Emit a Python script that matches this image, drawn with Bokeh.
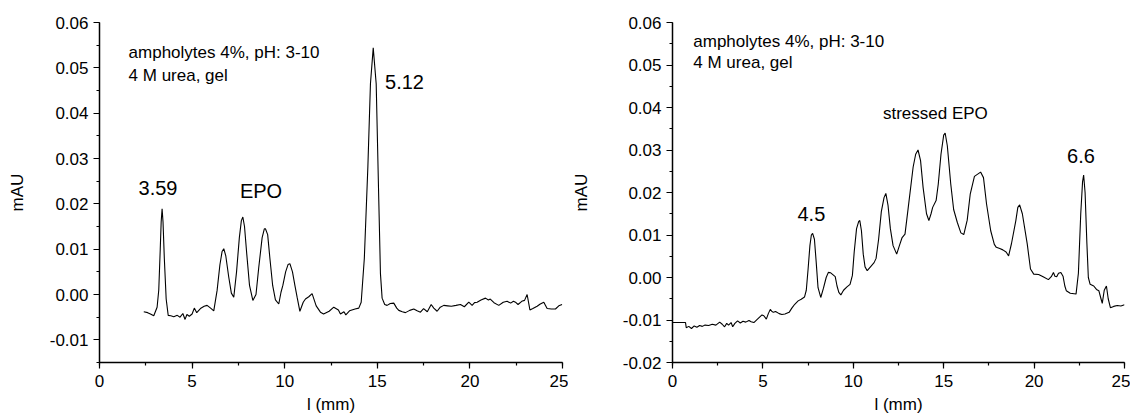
from bokeh.plotting import figure
from bokeh.layouts import row
from bokeh.models import Range1d, FixedTicker
from bokeh.core.properties import value
from bokeh.embed import file_html
from bokeh.resources import INLINE

FONT = "Liberation Sans"

# ---------------- data: left panel (EPO) ----------------
left_x = [2.39, 2.6, 2.75, 2.93, 3.11, 3.2, 3.28, 3.33, 3.38, 3.43, 3.5, 3.6, 3.71, 3.85, 4.01, 4.2,
          4.35, 4.5, 4.62, 4.72, 4.85, 5.0, 5.12, 5.25, 5.45, 5.65, 5.81, 6.0, 6.17, 6.35, 6.5, 6.62,
          6.71, 6.82, 6.98, 7.12, 7.25, 7.4, 7.55, 7.66, 7.74, 7.83, 7.95, 8.1, 8.28, 8.45, 8.6, 8.78,
          8.9, 8.96, 9.08, 9.2, 9.35, 9.5, 9.68, 9.8, 9.9, 10.05, 10.18, 10.28, 10.42, 10.55, 10.67,
          10.82, 11.0, 11.12, 11.3, 11.48, 11.7, 11.93, 12.1, 12.4, 12.65, 12.9, 13.01, 13.2, 13.3,
          13.5, 13.8, 14.0, 14.13, 14.3, 14.49, 14.63, 14.78, 14.94, 15.08, 15.17, 15.26, 15.4, 15.53,
          15.7, 15.89, 16.05, 16.16, 16.35, 16.52, 16.75, 16.97, 17.15, 17.33, 17.5, 17.7, 17.91,
          18.05, 18.23, 18.4, 18.59, 18.8, 19.0, 19.25, 19.49, 19.7, 19.94, 20.12, 20.25, 20.39, 20.6,
          20.84, 21.0, 21.1, 21.3, 21.56, 21.8, 22.01, 22.2, 22.35, 22.46, 22.6, 22.8, 22.95, 23.09,
          23.24, 23.4, 23.63, 23.8, 23.99, 24.17, 24.4, 24.62, 24.8, 24.98]
left_y = [-0.0038, -0.0040, -0.0043, -0.0047, -0.0028, 0.0010, 0.0100, 0.0160, 0.0189, 0.0160,
          0.0080, -0.0010, -0.0046, -0.0047, -0.0049, -0.0046, -0.0050, -0.0042, -0.0055, -0.0044,
          -0.0048, -0.0043, -0.0030, -0.0040, -0.0031, -0.0026, -0.0024, -0.0030, -0.0036, 0.0009,
          0.0065, 0.0095, 0.0101, 0.0085, 0.0038, 0.0003, -0.0006, 0.0050, 0.0125, 0.0163, 0.0171,
          0.0150, 0.0090, 0.0020, -0.0013, 0.0000, 0.0060, 0.0125, 0.0145, 0.0145, 0.0132, 0.0080,
          0.0020, -0.0012, -0.0021, 0.0005, 0.0020, 0.0050, 0.0066, 0.0068, 0.0050, 0.0020, -0.0006,
          -0.0037, -0.0017, -0.0010, -0.0005, 0.0002, -0.0025, -0.0039, -0.0043, -0.0037, -0.0028,
          -0.0034, -0.0043, -0.0038, -0.0045, -0.0036, -0.0032, -0.0030, -0.0017, 0.0080, 0.0281,
          0.0465, 0.0544, 0.0465, 0.0208, 0.0046, -0.0008, -0.0022, -0.0024, -0.0020, -0.0019, -0.0030,
          -0.0035, -0.0038, -0.0040, -0.0035, -0.0032, -0.0036, -0.0039, -0.0031, -0.0038, -0.0022,
          -0.0030, -0.0037, -0.0028, -0.0024, -0.0025, -0.0026, -0.0024, -0.0022, -0.0027, -0.0017,
          -0.0024, -0.0018, -0.0017, -0.0012, -0.0008, -0.0012, -0.0010, -0.0018, -0.0024, -0.0017,
          -0.0015, -0.0019, -0.0015, -0.0017, -0.0022, -0.0015, -0.0013, 0.0000, -0.0034, -0.0031,
          -0.0026, -0.0021, -0.0017, -0.0031, -0.0032, -0.0032, -0.0025, -0.0022]

# ---------------- data: right panel (stressed EPO) ----------------
right_x = [0.0, 0.72, 0.76, 0.9, 1.05, 1.2, 1.35, 1.5, 1.65, 1.8, 2.0, 2.2, 2.4, 2.61, 2.75, 2.88,
           3.0, 3.1, 3.24, 3.33, 3.45, 3.6, 3.75, 3.9, 4.05, 4.23, 4.35, 4.5, 4.7, 4.95, 5.05, 5.19,
           5.3, 5.41, 5.5, 5.58, 5.7, 5.9, 6.05, 6.22, 6.45, 6.6, 6.76, 6.95, 7.12, 7.3, 7.4, 7.5,
           7.6, 7.68, 7.75, 7.85, 7.95, 8.05, 8.2, 8.35, 8.5, 8.62, 8.75, 9.0, 9.1, 9.2, 9.31, 9.46,
           9.65, 9.82, 9.95, 10.05, 10.18, 10.3, 10.36, 10.45, 10.55, 10.65, 10.77, 10.95, 11.15,
           11.26, 11.4, 11.55, 11.7, 11.8, 11.92, 12.05, 12.2, 12.4, 12.55, 12.7, 12.86, 13.04, 13.31,
           13.45, 13.58, 13.72, 13.86, 14.05, 14.18, 14.3, 14.39, 14.58, 14.7, 14.85, 15.0, 15.08,
           15.2, 15.39, 15.55, 15.75, 15.95, 16.11, 16.3, 16.47, 16.7, 17.04, 17.2, 17.37, 17.6, 17.8,
           17.91, 18.1, 18.27, 18.45, 18.59, 18.75, 18.99, 19.1, 19.2, 19.35, 19.62, 19.8, 19.98,
           20.25, 20.5, 20.79, 20.95, 21.07, 21.15, 21.25, 21.35, 21.48, 21.6, 21.7, 21.78, 22.0,
           22.32, 22.45, 22.58, 22.68, 22.74, 22.82, 22.92, 23.0, 23.1, 23.3, 23.45, 23.58, 23.7,
           23.77, 23.88, 24.0, 24.1, 24.22, 24.4, 24.6, 24.8, 25.0]
right_y = [-0.0106, -0.0106, -0.0118, -0.0115, -0.0120, -0.0114, -0.0117, -0.0113, -0.0115, -0.0112,
           -0.0113, -0.0110, -0.0112, -0.0105, -0.0110, -0.0116, -0.0108, -0.0112, -0.0106, -0.0116,
           -0.0108, -0.0102, -0.0107, -0.0103, -0.0105, -0.0101, -0.0104, -0.0106, -0.0098, -0.0088,
           -0.0090, -0.0098, -0.0085, -0.0075, -0.0080, -0.0082, -0.0080, -0.0085, -0.0087, -0.0086,
           -0.0082, -0.0072, -0.0063, -0.0055, -0.0051, -0.0046, -0.0030, 0.0020, 0.0075, 0.0100,
           0.0104, 0.0090, 0.0035, -0.0024, -0.0047, -0.0025, 0.0000, 0.0012, 0.0011, 0.0002, -0.0020,
           -0.0035, -0.0041, -0.0030, -0.0022, -0.0016, 0.0005, 0.0060, 0.0115, 0.0132, 0.0134, 0.0110,
           0.0055, 0.0025, 0.0016, 0.0025, 0.0035, 0.0045, 0.0090, 0.0155, 0.0188, 0.0198, 0.0170,
           0.0115, 0.0075, 0.0055, 0.0075, 0.0094, 0.0102, 0.0165, 0.0260, 0.0290, 0.0300, 0.0275,
           0.0212, 0.0150, 0.0134, 0.0150, 0.0165, 0.0181, 0.0220, 0.0290, 0.0335, 0.0340, 0.0310,
           0.0220, 0.0160, 0.0130, 0.0105, 0.0101, 0.0135, 0.0197, 0.0238, 0.0248, 0.0235, 0.0173,
           0.0110, 0.0078, 0.0071, 0.0068, 0.0065, 0.0060, 0.0051, 0.0080, 0.0134, 0.0165, 0.0171,
           0.0150, 0.0079, 0.0020, 0.0008, 0.0007, 0.0002, -0.0005, 0.0002, 0.0012, 0.0003, 0.0002,
           0.0010, 0.0012, 0.0003, -0.0020, -0.0031, -0.0037, -0.0039, 0.0010, 0.0150, 0.0225, 0.0241,
           0.0200, 0.0080, 0.0000, -0.0016, -0.0020, -0.0028, -0.0031, -0.0050, -0.0061, -0.0030,
           -0.0020, -0.0050, -0.0071, -0.0068, -0.0066, -0.0067, -0.0064]

x_ticks = [0, 5, 10, 15, 20, 25]
x_tick_labels = ["0", "5", "10", "15", "20", "25"]
left_y_ticks = [-0.01, 0.0, 0.01, 0.02, 0.03, 0.04, 0.05, 0.06]
left_y_labels = ["-0.01", "0.00", "0.01", "0.02", "0.03", "0.04", "0.05", "0.06"]
right_y_ticks = [-0.02, -0.01, 0.0, 0.01, 0.02, 0.03, 0.04, 0.05, 0.06]
right_y_labels = ["-0.02", "-0.01", "0.00", "0.01", "0.02", "0.03", "0.04", "0.05", "0.06"]

x_title = "l (mm)"
y_title = "mAU"

left_notes = ["ampholytes 4%, pH: 3-10", "4 M urea, gel"]
left_peaks = ["3.59", "EPO", "5.12"]
left_peak_x = [3.16, 8.72, 16.47]
left_peak_y = [0.0236, 0.0228, 0.0469]

right_notes = ["ampholytes 4%, pH: 3-10", "4 M urea, gel"]
right_peaks = ["4.5", "6.6"]
right_peak_x = [7.68, 22.59]
right_peak_y = [0.0150, 0.0287]
right_title = "stressed EPO"


def make_fig(xs, ys, y0, y1, yticks, ylabels, width, left_border, ylab_standoff):
    p = figure(width=width, height=418, x_range=Range1d(0, 25), y_range=Range1d(y0, y1),
               output_backend="svg", toolbar_location=None,
               min_border_left=left_border, min_border_right=6,
               min_border_top=22, min_border_bottom=56)
    p.outline_line_color = None
    p.grid.visible = False
    p.background_fill_color = "white"
    p.line(xs, ys, line_color="black", line_width=1.1)

    minor_y = [round(y0 + 0.005 * i, 4) for i in range(int(round((y1 - y0) / 0.005)) + 1)]
    p.xaxis.ticker = FixedTicker(ticks=x_ticks, minor_ticks=[2.5 * i for i in range(11)])
    p.xaxis.major_label_overrides = {t: l for t, l in zip(x_ticks, x_tick_labels)}
    p.yaxis.ticker = FixedTicker(ticks=yticks, minor_ticks=minor_y)
    p.yaxis.major_label_overrides = {t: l for t, l in zip(yticks, ylabels)}
    p.xaxis.axis_label = x_title
    p.yaxis.axis_label = y_title
    for ax in (p.xaxis, p.yaxis):
        ax.axis_line_width = 1.5
        ax.axis_line_color = "black"
        ax.major_tick_line_color = "black"
        ax.minor_tick_line_color = "black"
        ax.major_tick_line_width = 1.2
        ax.minor_tick_line_width = 1.2
        ax.major_tick_in = 0
        ax.major_tick_out = 6
        ax.minor_tick_in = 0
        ax.minor_tick_out = 3
        ax.major_label_text_font = FONT
        ax.major_label_text_font_size = "17px"
        ax.major_label_text_color = "black"
        ax.axis_label_text_font = FONT
        ax.axis_label_text_font_size = "17px"
        ax.axis_label_text_font_style = "normal"
        ax.axis_label_text_color = "black"
    p.xaxis.major_label_standoff = 6
    p.xaxis.axis_label_standoff = 5
    p.yaxis.major_label_standoff = 5
    p.yaxis.axis_label_standoff = ylab_standoff
    return p


p1 = make_fig(left_x, left_y, -0.015, 0.06, left_y_ticks, left_y_labels, 568, 99, 20)
p1.text(x=[1.57, 1.57], y=[0.0533, 0.0484], text=left_notes, text_font=value(FONT),
        text_font_size="17px", text_baseline="middle", text_align="left", text_color="black")
p1.text(x=left_peak_x, y=left_peak_y, text=left_peaks, text_font=value(FONT),
        text_font_size="20px", text_baseline="middle", text_align="center", text_color="black")

p2 = make_fig(right_x, right_y, -0.02, 0.06, right_y_ticks, right_y_labels, 562, 94, 29)
p2.text(x=[1.15, 1.15], y=[0.0556, 0.0507], text=right_notes, text_font=value(FONT),
        text_font_size="17px", text_baseline="middle", text_align="left", text_color="black")
p2.text(x=right_peak_x, y=right_peak_y, text=right_peaks, text_font=value(FONT),
        text_font_size="20px", text_baseline="middle", text_align="center", text_color="black")
p2.text(x=[14.54], y=[0.0386], text=[right_title], text_font=value(FONT),
        text_font_size="17px", text_baseline="middle", text_align="center", text_color="black")

layout = row(p1, p2)
open("out.html", "w").write(file_html(layout, INLINE))
